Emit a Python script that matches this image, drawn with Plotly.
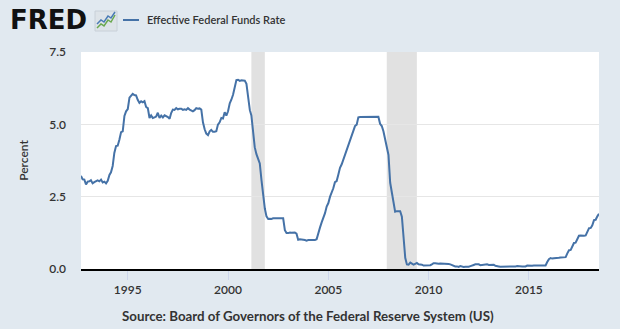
import pandas as pd
import plotly.graph_objects as go

# ---- data (monthly effective federal funds rate, %) ----
start_month = "1992-09-01"
rates = [
    3.22, 3.10, 3.09, 2.92,                                              # 1992 Sep-Dec
    3.02, 3.03, 3.07, 2.96, 3.00, 3.04, 3.06, 3.03, 3.09, 2.99, 3.02, 2.96,  # 1993
    3.05, 3.25, 3.34, 3.56, 4.01, 4.25, 4.26, 4.47, 4.73, 4.76, 5.29, 5.45,  # 1994
    5.53, 5.92, 5.98, 6.05, 6.01, 6.00, 5.85, 5.74, 5.80, 5.76, 5.80, 5.60,  # 1995
    5.56, 5.22, 5.31, 5.22, 5.24, 5.27, 5.40, 5.22, 5.30, 5.24, 5.31, 5.29,  # 1996
    5.25, 5.19, 5.39, 5.51, 5.50, 5.56, 5.52, 5.54, 5.54, 5.50, 5.52, 5.50,  # 1997
    5.56, 5.51, 5.49, 5.45, 5.49, 5.56, 5.54, 5.55, 5.51, 5.07, 4.83, 4.68,  # 1998
    4.63, 4.76, 4.81, 4.74, 4.74, 4.76, 4.99, 5.07, 5.22, 5.20, 5.42, 5.30,  # 1999
    5.45, 5.73, 5.85, 6.02, 6.27, 6.53, 6.54, 6.50, 6.52, 6.51, 6.51, 6.40,  # 2000
    5.98, 5.49, 5.31, 4.80, 4.21, 3.97, 3.77, 3.65, 3.07, 2.49, 2.09, 1.82,  # 2001
    1.73, 1.74, 1.73, 1.75, 1.75, 1.75, 1.73, 1.74, 1.75, 1.75, 1.34, 1.24,  # 2002
    1.24, 1.26, 1.25, 1.26, 1.26, 1.22, 1.01, 1.03, 1.01, 1.01, 1.00, 0.98,  # 2003
    1.00, 1.01, 1.00, 1.00, 1.00, 1.03, 1.26, 1.43, 1.61, 1.76, 1.93, 2.16,  # 2004
    2.28, 2.50, 2.63, 2.79, 3.00, 3.04, 3.26, 3.50, 3.62, 3.78, 4.00, 4.16,  # 2005
    4.29, 4.49, 4.59, 4.79, 4.94, 4.99, 5.24, 5.25, 5.25, 5.25, 5.25, 5.24,  # 2006
    5.25, 5.26, 5.26, 5.25, 5.25, 5.25, 5.26, 5.02, 4.94, 4.76, 4.49, 4.24,  # 2007
    3.94, 2.98, 2.61, 2.28, 1.98, 2.00, 2.01, 2.00, 1.81, 0.97, 0.39, 0.16,  # 2008
    0.15, 0.22, 0.18, 0.15, 0.18, 0.21, 0.16, 0.16, 0.15, 0.12, 0.12, 0.12,  # 2009
    0.11, 0.13, 0.16, 0.20, 0.20, 0.18, 0.18, 0.19, 0.19, 0.19, 0.19, 0.18,  # 2010
    0.17, 0.16, 0.14, 0.10, 0.09, 0.09, 0.07, 0.10, 0.08, 0.07, 0.08, 0.07,  # 2011
    0.08, 0.10, 0.13, 0.14, 0.16, 0.16, 0.16, 0.13, 0.14, 0.16, 0.16, 0.16,  # 2012
    0.14, 0.15, 0.14, 0.15, 0.11, 0.09, 0.09, 0.08, 0.08, 0.09, 0.08, 0.09,  # 2013
    0.07, 0.07, 0.08, 0.09, 0.09, 0.10, 0.09, 0.09, 0.09, 0.09, 0.09, 0.12,  # 2014
    0.11, 0.11, 0.11, 0.12, 0.12, 0.13, 0.13, 0.14, 0.14, 0.12, 0.12, 0.24,  # 2015
    0.34, 0.38, 0.36, 0.37, 0.37, 0.38, 0.39, 0.40, 0.40, 0.40, 0.41, 0.54,  # 2016
    0.65, 0.66, 0.79, 0.90, 0.91, 1.04, 1.15, 1.16, 1.15, 1.15, 1.16, 1.30,  # 2017
    1.41, 1.42, 1.51, 1.69, 1.70, 1.82, 1.91,                                # 2018 Jan-Jul
]
dates = pd.date_range(start_month, periods=len(rates), freq="MS")

recession_starts = ["2001-03-01", "2007-12-01"]
recession_ends = ["2001-11-01", "2009-06-01"]

x_tick_years = [1995, 2000, 2005, 2010, 2015]
y_ticks = [0.0, 2.5, 5.0, 7.5]

series_name = "Effective Federal Funds Rate"
y_title = "Percent"
source_text = "Source: Board of Governors of the Federal Reserve System (US)"

# ---- styling ----
W, H = 620, 329
L, R, T, B = 81, 21, 52, 60
BG = "#e1e9f0"
LINE = "#4572a7"
TXT = "#333333"
FONT = "Lato"

pw, ph = W - L - R, H - T - B


def px(xp):
    return (xp - L) / pw


def py(yp):
    return (H - B - yp) / ph


fig = go.Figure()
fig.add_trace(go.Scatter(
    x=dates, y=rates, mode="lines", name=series_name,
    line=dict(color=LINE, width=2), showlegend=False,
))

shapes = []
for s, e in zip(recession_starts, recession_ends):
    shapes.append(dict(type="rect", xref="x", yref="paper", x0=s, x1=e, y0=0, y1=1,
                       fillcolor="#e1e1e1", line=dict(width=0), layer="below"))

# legend line swatch
shapes.append(dict(type="line", xref="paper", yref="paper",
                   x0=px(123), x1=px(139), y0=py(20), y1=py(20),
                   line=dict(color=LINE, width=2)))
# FRED icon (small chart glyph)
shapes.append(dict(type="rect", xref="paper", yref="paper",
                   x0=px(95), x1=px(117), y0=py(31), y1=py(11),
                   fillcolor="#dde3e8", line=dict(color="#c8d0d8", width=1)))


def path_from(points):
    return "M " + " L ".join(f"{px(a):.5f},{py(b):.5f}" for a, b in points)


shapes.append(dict(type="path", xref="paper", yref="paper",
                   path=path_from([(97, 28), (101, 24), (104, 26), (108, 20), (111, 22), (115, 15)]),
                   line=dict(color="#6aa84f", width=1.5)))
shapes.append(dict(type="path", xref="paper", yref="paper",
                   path=path_from([(97, 24), (101, 20), (104, 22), (108, 16), (111, 18), (115, 12)]),
                   line=dict(color="#4a7bb5", width=1.5)))

annotations = [
    dict(text="<b>FRED</b>", xref="paper", yref="paper", x=px(8), y=py(20),
         xanchor="left", yanchor="middle", showarrow=False,
         font=dict(family="DejaVu Sans", size=26, color="#111111")),
    dict(text=series_name, xref="paper", yref="paper", x=px(145), y=py(19),
         xanchor="left", yanchor="middle", showarrow=False,
         font=dict(family=FONT, size=11, color=TXT, weight=600)),
    dict(text=source_text, xref="paper", yref="paper", x=px(308), y=py(316),
         xanchor="center", yanchor="middle", showarrow=False,
         font=dict(family=FONT, size=13.3, color=TXT, weight=700)),
]

fig.update_layout(
    width=W, height=H,
    margin=dict(l=L, r=R, t=T, b=B),
    paper_bgcolor=BG, plot_bgcolor="white",
    shapes=shapes, annotations=annotations,
    font=dict(family=FONT, color=TXT),
    xaxis=dict(
        type="date",
        range=[dates[0], dates[-1]],
        tickvals=[f"{y}-01-01" for y in x_tick_years],
        ticktext=[str(y) for y in x_tick_years],
        ticks="outside", ticklen=9, tickcolor="#ccd6eb", tickwidth=1,
        showgrid=False, showline=True, linecolor="black", linewidth=2,
        tickfont=dict(size=12, color=TXT, family=FONT, weight=600),
        zeroline=False,
    ),
    yaxis=dict(
        range=[0, 7.5],
        tickvals=y_ticks,
        ticktext=[f"{v:.1f}" for v in y_ticks],
        showgrid=True, gridcolor="#e6e6e6", gridwidth=1,
        zeroline=False, showline=False,
        ticks="", ticklabelstandoff=14,
        tickfont=dict(size=12, color=TXT, family=FONT, weight=600),
        title=dict(text=y_title, standoff=18,
                   font=dict(size=12, color=TXT, family=FONT, weight=600)),
    ),
)

fig.write_html("out.html")
